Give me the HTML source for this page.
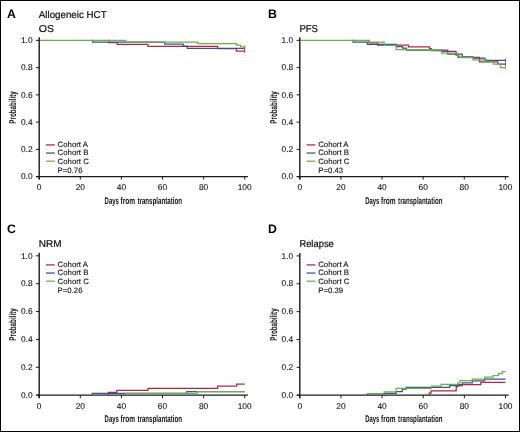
<!DOCTYPE html>
<html><head><meta charset="utf-8"><style>
html,body{margin:0;padding:0;background:#fff;width:520px;height:432px;overflow:hidden}
svg{display:block;will-change:transform}
text{font-family:"Liberation Sans",sans-serif;text-rendering:geometricPrecision}
text.r{stroke:#111;stroke-width:0.22px}
text.s{stroke:#111;stroke-width:0.1px}
</style></head><body>
<svg width="520" height="432" viewBox="0 0 520 432">
<rect x="0" y="0" width="520" height="432" fill="#fff"/>
<rect x="0.5" y="0.5" width="519" height="431" fill="none" stroke="#000" stroke-width="1"/>
<text x="7.0" y="17.6" font-family="Liberation Sans" font-weight="bold" font-size="12.3" fill="#000">A</text>
<text class="r" x="38.8" y="17.6" font-family="Liberation Sans" font-size="10" textLength="67.8" lengthAdjust="spacingAndGlyphs" fill="#111">Allogeneic HCT</text>
<text class="r" x="38.8" y="31.5" font-family="Liberation Sans" font-size="10" textLength="15.2" lengthAdjust="spacingAndGlyphs" fill="#111">OS</text>
<path d="M108,40.35H108.7V42.6H117.2V44.3H147.9V46.4H217.7V48.6H236.3V51.1H244.7" fill="none" stroke="#b82344" stroke-width="1.25"/>
<path d="M244.7,49.5V52.7" stroke="#b82344" stroke-width="1"/>
<path d="M91.8,40.35H92.5V42H164.7V44.2H183.2V46H187.3V48.3H244.7" fill="none" stroke="#34558f" stroke-width="1.25"/>
<path d="M244.7,46.7V49.9" stroke="#34558f" stroke-width="1"/>
<path d="M39.2,40.35H125.8V42.15H197.7V43.7H236.5V45.2H240.7V46.8H244.7" fill="none" stroke="#69b148" stroke-width="1.25"/>
<path d="M244.7,45.2V48.4" stroke="#69b148" stroke-width="1"/>
<path d="M39.2,37.35V179.6" stroke="#1a1a1a" stroke-width="1.4" fill="none"/>
<path d="M36.2,176.6H247.9" stroke="#1a1a1a" stroke-width="1.3" fill="none"/>
<path d="M36,176.6H39.2" stroke="#1a1a1a" stroke-width="1"/>
<text class="s" x="32.6" y="179.3" text-anchor="end" font-family="Liberation Sans" font-size="8.4" fill="#111">0.0</text>
<path d="M36,149.35H39.2" stroke="#1a1a1a" stroke-width="1"/>
<text class="s" x="32.6" y="152.05" text-anchor="end" font-family="Liberation Sans" font-size="8.4" fill="#111">0.2</text>
<path d="M36,122.1H39.2" stroke="#1a1a1a" stroke-width="1"/>
<text class="s" x="32.6" y="124.8" text-anchor="end" font-family="Liberation Sans" font-size="8.4" fill="#111">0.4</text>
<path d="M36,94.85H39.2" stroke="#1a1a1a" stroke-width="1"/>
<text class="s" x="32.6" y="97.55" text-anchor="end" font-family="Liberation Sans" font-size="8.4" fill="#111">0.6</text>
<path d="M36,67.6H39.2" stroke="#1a1a1a" stroke-width="1"/>
<text class="s" x="32.6" y="70.3" text-anchor="end" font-family="Liberation Sans" font-size="8.4" fill="#111">0.8</text>
<path d="M36,40.35H39.2" stroke="#1a1a1a" stroke-width="1"/>
<text class="s" x="32.6" y="43.05" text-anchor="end" font-family="Liberation Sans" font-size="8.4" fill="#111">1.0</text>
<path d="M39.2,176.6V179.6" stroke="#1a1a1a" stroke-width="1"/>
<text class="s" x="39.2" y="190" text-anchor="middle" font-family="Liberation Sans" font-size="8.4" fill="#111">0</text>
<path d="M80.3,176.6V179.6" stroke="#1a1a1a" stroke-width="1"/>
<text class="s" x="80.3" y="190" text-anchor="middle" font-family="Liberation Sans" font-size="8.4" fill="#111">20</text>
<path d="M121.4,176.6V179.6" stroke="#1a1a1a" stroke-width="1"/>
<text class="s" x="121.4" y="190" text-anchor="middle" font-family="Liberation Sans" font-size="8.4" fill="#111">40</text>
<path d="M162.5,176.6V179.6" stroke="#1a1a1a" stroke-width="1"/>
<text class="s" x="162.5" y="190" text-anchor="middle" font-family="Liberation Sans" font-size="8.4" fill="#111">60</text>
<path d="M203.6,176.6V179.6" stroke="#1a1a1a" stroke-width="1"/>
<text class="s" x="203.6" y="190" text-anchor="middle" font-family="Liberation Sans" font-size="8.4" fill="#111">80</text>
<path d="M244.7,176.6V179.6" stroke="#1a1a1a" stroke-width="1"/>
<text class="s" x="244.7" y="190" text-anchor="middle" font-family="Liberation Sans" font-size="8.4" fill="#111">100</text>
<text x="104.6" y="203.8" font-family="Liberation Sans" font-weight="bold" font-size="9.7" textLength="14.2" lengthAdjust="spacingAndGlyphs" fill="#111">Days</text>
<text x="120.5" y="203.8" font-family="Liberation Sans" font-weight="bold" font-size="9.7" textLength="14.5" lengthAdjust="spacingAndGlyphs" fill="#111">from</text>
<text x="137.5" y="203.8" font-family="Liberation Sans" font-weight="bold" font-size="9.7" textLength="44.4" lengthAdjust="spacingAndGlyphs" fill="#111">transplantation</text>
<text transform="translate(16.3,107.47) rotate(-90)" text-anchor="middle" font-family="Liberation Sans" font-weight="bold" font-size="10" textLength="32.4" lengthAdjust="spacingAndGlyphs" fill="#111">Probability</text>
<path d="M46,144.9H54.8" stroke="#b82344" stroke-width="1.25"/>
<text class="s" x="57.6" y="147" font-family="Liberation Sans" font-size="7.8" fill="#111">Cohort A</text>
<path d="M46,153.05H54.8" stroke="#34558f" stroke-width="1.25"/>
<text class="s" x="57.6" y="154.9" font-family="Liberation Sans" font-size="7.8" fill="#111">Cohort B</text>
<path d="M46,161.2H54.8" stroke="#69b148" stroke-width="1.25"/>
<text class="s" x="57.6" y="163.9" font-family="Liberation Sans" font-size="7.8" fill="#111">Cohort C</text>
<text class="s" x="57.6" y="172.5" font-family="Liberation Sans" font-size="7.8" fill="#111">P=0.76</text>
<text x="268.0" y="17.6" font-family="Liberation Sans" font-weight="bold" font-size="12.3" fill="#000">B</text>
<text class="r" x="299.4" y="31.6" font-family="Liberation Sans" font-size="10" textLength="18.6" lengthAdjust="spacingAndGlyphs" fill="#111">PFS</text>
<path d="M368.3,40.35H369V42.8H377.7V45H408.5V46.8H429.5V48.7H431.5V50.3H442.3V51.3H456V55H458V57.4H479.5V61.8H497.9V64H505.4" fill="none" stroke="#b82344" stroke-width="1.25"/>
<path d="M505.4,62.4V65.6" stroke="#b82344" stroke-width="1"/>
<path d="M352.4,40.35H353.1V42.2H367.3V44.3H396.5V46.5H402.7V48.2H406.5V50.1H447.7V54H462.3V56.9H473V58H485V60.3H505.4" fill="none" stroke="#34558f" stroke-width="1.25"/>
<path d="M505.4,58.7V61.9" stroke="#34558f" stroke-width="1"/>
<path d="M299.8,40.35H367.7V42H384.2V45.3H396.2V49.5H431.2V50.9H441.5V53.2H457.7V56H460V57.6H473V59.8H485V61.8H493.5V64H500.5V67.7H505.4" fill="none" stroke="#69b148" stroke-width="1.25"/>
<path d="M505.4,66.1V69.3" stroke="#69b148" stroke-width="1"/>
<path d="M299.8,37.35V179.6" stroke="#1a1a1a" stroke-width="1.4" fill="none"/>
<path d="M296.8,176.6H508.6" stroke="#1a1a1a" stroke-width="1.3" fill="none"/>
<path d="M296.6,176.6H299.8" stroke="#1a1a1a" stroke-width="1"/>
<text class="s" x="293.2" y="179.3" text-anchor="end" font-family="Liberation Sans" font-size="8.4" fill="#111">0.0</text>
<path d="M296.6,149.35H299.8" stroke="#1a1a1a" stroke-width="1"/>
<text class="s" x="293.2" y="152.05" text-anchor="end" font-family="Liberation Sans" font-size="8.4" fill="#111">0.2</text>
<path d="M296.6,122.1H299.8" stroke="#1a1a1a" stroke-width="1"/>
<text class="s" x="293.2" y="124.8" text-anchor="end" font-family="Liberation Sans" font-size="8.4" fill="#111">0.4</text>
<path d="M296.6,94.85H299.8" stroke="#1a1a1a" stroke-width="1"/>
<text class="s" x="293.2" y="97.55" text-anchor="end" font-family="Liberation Sans" font-size="8.4" fill="#111">0.6</text>
<path d="M296.6,67.6H299.8" stroke="#1a1a1a" stroke-width="1"/>
<text class="s" x="293.2" y="70.3" text-anchor="end" font-family="Liberation Sans" font-size="8.4" fill="#111">0.8</text>
<path d="M296.6,40.35H299.8" stroke="#1a1a1a" stroke-width="1"/>
<text class="s" x="293.2" y="43.05" text-anchor="end" font-family="Liberation Sans" font-size="8.4" fill="#111">1.0</text>
<path d="M299.8,176.6V179.6" stroke="#1a1a1a" stroke-width="1"/>
<text class="s" x="299.8" y="190" text-anchor="middle" font-family="Liberation Sans" font-size="8.4" fill="#111">0</text>
<path d="M340.92,176.6V179.6" stroke="#1a1a1a" stroke-width="1"/>
<text class="s" x="340.92" y="190" text-anchor="middle" font-family="Liberation Sans" font-size="8.4" fill="#111">20</text>
<path d="M382.04,176.6V179.6" stroke="#1a1a1a" stroke-width="1"/>
<text class="s" x="382.04" y="190" text-anchor="middle" font-family="Liberation Sans" font-size="8.4" fill="#111">40</text>
<path d="M423.16,176.6V179.6" stroke="#1a1a1a" stroke-width="1"/>
<text class="s" x="423.16" y="190" text-anchor="middle" font-family="Liberation Sans" font-size="8.4" fill="#111">60</text>
<path d="M464.28,176.6V179.6" stroke="#1a1a1a" stroke-width="1"/>
<text class="s" x="464.28" y="190" text-anchor="middle" font-family="Liberation Sans" font-size="8.4" fill="#111">80</text>
<path d="M505.4,176.6V179.6" stroke="#1a1a1a" stroke-width="1"/>
<text class="s" x="505.4" y="190" text-anchor="middle" font-family="Liberation Sans" font-size="8.4" fill="#111">100</text>
<text x="365.2" y="203.8" font-family="Liberation Sans" font-weight="bold" font-size="9.7" textLength="14.2" lengthAdjust="spacingAndGlyphs" fill="#111">Days</text>
<text x="381.1" y="203.8" font-family="Liberation Sans" font-weight="bold" font-size="9.7" textLength="14.5" lengthAdjust="spacingAndGlyphs" fill="#111">from</text>
<text x="398.1" y="203.8" font-family="Liberation Sans" font-weight="bold" font-size="9.7" textLength="44.4" lengthAdjust="spacingAndGlyphs" fill="#111">transplantation</text>
<text transform="translate(276.9,107.47) rotate(-90)" text-anchor="middle" font-family="Liberation Sans" font-weight="bold" font-size="10" textLength="32.4" lengthAdjust="spacingAndGlyphs" fill="#111">Probability</text>
<path d="M306.6,144.9H315.4" stroke="#b82344" stroke-width="1.25"/>
<text class="s" x="318.2" y="147" font-family="Liberation Sans" font-size="7.8" fill="#111">Cohort A</text>
<path d="M306.6,153.05H315.4" stroke="#34558f" stroke-width="1.25"/>
<text class="s" x="318.2" y="154.9" font-family="Liberation Sans" font-size="7.8" fill="#111">Cohort B</text>
<path d="M306.6,161.2H315.4" stroke="#69b148" stroke-width="1.25"/>
<text class="s" x="318.2" y="163.9" font-family="Liberation Sans" font-size="7.8" fill="#111">Cohort C</text>
<text class="s" x="318.2" y="172.5" font-family="Liberation Sans" font-size="7.8" fill="#111">P=0.43</text>
<text x="7.0" y="232.6" font-family="Liberation Sans" font-weight="bold" font-size="12.3" fill="#000">C</text>
<text class="r" x="38.8" y="247.1" font-family="Liberation Sans" font-size="10" fill="#111">NRM</text>
<path d="M108.4,394.6H108.4V392.3H116.8V390.3H148V388.4H217.6V386.2H236.6V384.1H244.7" fill="none" stroke="#b82344" stroke-width="1.25"/>
<path d="M92.2,394.6H92.2V393.4H186.8V391.5H244.7" fill="none" stroke="#34558f" stroke-width="1.25"/>
<path d="M125.3,394.6H125.3V393.4H197.2V391.5H244.7" fill="none" stroke="#69b148" stroke-width="1.25"/>
<path d="M39.2,252.8V398.2" stroke="#1a1a1a" stroke-width="1.4" fill="none"/>
<path d="M36.2,395.2H247.9" stroke="#1a1a1a" stroke-width="1.3" fill="none"/>
<path d="M36,395.2H39.2" stroke="#1a1a1a" stroke-width="1"/>
<text class="s" x="32.6" y="397.9" text-anchor="end" font-family="Liberation Sans" font-size="8.4" fill="#111">0.0</text>
<path d="M36,367.32H39.2" stroke="#1a1a1a" stroke-width="1"/>
<text class="s" x="32.6" y="370.02" text-anchor="end" font-family="Liberation Sans" font-size="8.4" fill="#111">0.2</text>
<path d="M36,339.44H39.2" stroke="#1a1a1a" stroke-width="1"/>
<text class="s" x="32.6" y="342.14" text-anchor="end" font-family="Liberation Sans" font-size="8.4" fill="#111">0.4</text>
<path d="M36,311.56H39.2" stroke="#1a1a1a" stroke-width="1"/>
<text class="s" x="32.6" y="314.26" text-anchor="end" font-family="Liberation Sans" font-size="8.4" fill="#111">0.6</text>
<path d="M36,283.68H39.2" stroke="#1a1a1a" stroke-width="1"/>
<text class="s" x="32.6" y="286.38" text-anchor="end" font-family="Liberation Sans" font-size="8.4" fill="#111">0.8</text>
<path d="M36,255.8H39.2" stroke="#1a1a1a" stroke-width="1"/>
<text class="s" x="32.6" y="258.5" text-anchor="end" font-family="Liberation Sans" font-size="8.4" fill="#111">1.0</text>
<path d="M39.2,395.2V398.2" stroke="#1a1a1a" stroke-width="1"/>
<text class="s" x="39.2" y="408.6" text-anchor="middle" font-family="Liberation Sans" font-size="8.4" fill="#111">0</text>
<path d="M80.3,395.2V398.2" stroke="#1a1a1a" stroke-width="1"/>
<text class="s" x="80.3" y="408.6" text-anchor="middle" font-family="Liberation Sans" font-size="8.4" fill="#111">20</text>
<path d="M121.4,395.2V398.2" stroke="#1a1a1a" stroke-width="1"/>
<text class="s" x="121.4" y="408.6" text-anchor="middle" font-family="Liberation Sans" font-size="8.4" fill="#111">40</text>
<path d="M162.5,395.2V398.2" stroke="#1a1a1a" stroke-width="1"/>
<text class="s" x="162.5" y="408.6" text-anchor="middle" font-family="Liberation Sans" font-size="8.4" fill="#111">60</text>
<path d="M203.6,395.2V398.2" stroke="#1a1a1a" stroke-width="1"/>
<text class="s" x="203.6" y="408.6" text-anchor="middle" font-family="Liberation Sans" font-size="8.4" fill="#111">80</text>
<path d="M244.7,395.2V398.2" stroke="#1a1a1a" stroke-width="1"/>
<text class="s" x="244.7" y="408.6" text-anchor="middle" font-family="Liberation Sans" font-size="8.4" fill="#111">100</text>
<text x="104.6" y="422.4" font-family="Liberation Sans" font-weight="bold" font-size="9.7" textLength="14.2" lengthAdjust="spacingAndGlyphs" fill="#111">Days</text>
<text x="120.5" y="422.4" font-family="Liberation Sans" font-weight="bold" font-size="9.7" textLength="14.5" lengthAdjust="spacingAndGlyphs" fill="#111">from</text>
<text x="137.5" y="422.4" font-family="Liberation Sans" font-weight="bold" font-size="9.7" textLength="44.4" lengthAdjust="spacingAndGlyphs" fill="#111">transplantation</text>
<text transform="translate(16.3,324.5) rotate(-90)" text-anchor="middle" font-family="Liberation Sans" font-weight="bold" font-size="10" textLength="32.4" lengthAdjust="spacingAndGlyphs" fill="#111">Probability</text>
<path d="M46,264.9H54.8" stroke="#b82344" stroke-width="1.25"/>
<text class="s" x="57.6" y="267" font-family="Liberation Sans" font-size="7.8" fill="#111">Cohort A</text>
<path d="M46,273.05H54.8" stroke="#34558f" stroke-width="1.25"/>
<text class="s" x="57.6" y="274.9" font-family="Liberation Sans" font-size="7.8" fill="#111">Cohort B</text>
<path d="M46,281.2H54.8" stroke="#69b148" stroke-width="1.25"/>
<text class="s" x="57.6" y="283.9" font-family="Liberation Sans" font-size="7.8" fill="#111">Cohort C</text>
<text class="s" x="57.6" y="292.5" font-family="Liberation Sans" font-size="7.8" fill="#111">P=0.26</text>
<text x="268.0" y="232.6" font-family="Liberation Sans" font-weight="bold" font-size="12.3" fill="#000">D</text>
<text class="r" x="299.4" y="246.8" font-family="Liberation Sans" font-size="10" textLength="34.4" lengthAdjust="spacingAndGlyphs" fill="#111">Relapse</text>
<path d="M429.2,394.6H429.2V393H431V390.8H456.2V386.5H458V384.6H480.8V382.3H505.5" fill="none" stroke="#b82344" stroke-width="1.25"/>
<path d="M384.2,394.6H384.2V393.3H396.2V391.5H402.3V389H406.2V387.4H449.6V385.5H462.3V382.8H472.3V380.8H484.6V379.2H505.5" fill="none" stroke="#34558f" stroke-width="1.25"/>
<path d="M367.2,394.6H367.2V393.5H384.2V391.8H396.2V388.3H431.5V386.2H441.2V384.3H458V382.8H460V380.6H472.3V379.1H484.6V377.1H493V375.5H498.5V373.5H502.3V371.5H505.5" fill="none" stroke="#69b148" stroke-width="1.25"/>
<path d="M299.8,252.9V398.2" stroke="#1a1a1a" stroke-width="1.4" fill="none"/>
<path d="M296.8,395.2H508.7" stroke="#1a1a1a" stroke-width="1.3" fill="none"/>
<path d="M296.6,395.2H299.8" stroke="#1a1a1a" stroke-width="1"/>
<text class="s" x="293.2" y="397.9" text-anchor="end" font-family="Liberation Sans" font-size="8.4" fill="#111">0.0</text>
<path d="M296.6,367.34H299.8" stroke="#1a1a1a" stroke-width="1"/>
<text class="s" x="293.2" y="370.04" text-anchor="end" font-family="Liberation Sans" font-size="8.4" fill="#111">0.2</text>
<path d="M296.6,339.48H299.8" stroke="#1a1a1a" stroke-width="1"/>
<text class="s" x="293.2" y="342.18" text-anchor="end" font-family="Liberation Sans" font-size="8.4" fill="#111">0.4</text>
<path d="M296.6,311.62H299.8" stroke="#1a1a1a" stroke-width="1"/>
<text class="s" x="293.2" y="314.32" text-anchor="end" font-family="Liberation Sans" font-size="8.4" fill="#111">0.6</text>
<path d="M296.6,283.76H299.8" stroke="#1a1a1a" stroke-width="1"/>
<text class="s" x="293.2" y="286.46" text-anchor="end" font-family="Liberation Sans" font-size="8.4" fill="#111">0.8</text>
<path d="M296.6,255.9H299.8" stroke="#1a1a1a" stroke-width="1"/>
<text class="s" x="293.2" y="258.6" text-anchor="end" font-family="Liberation Sans" font-size="8.4" fill="#111">1.0</text>
<path d="M299.8,395.2V398.2" stroke="#1a1a1a" stroke-width="1"/>
<text class="s" x="299.8" y="408.6" text-anchor="middle" font-family="Liberation Sans" font-size="8.4" fill="#111">0</text>
<path d="M340.94,395.2V398.2" stroke="#1a1a1a" stroke-width="1"/>
<text class="s" x="340.94" y="408.6" text-anchor="middle" font-family="Liberation Sans" font-size="8.4" fill="#111">20</text>
<path d="M382.08,395.2V398.2" stroke="#1a1a1a" stroke-width="1"/>
<text class="s" x="382.08" y="408.6" text-anchor="middle" font-family="Liberation Sans" font-size="8.4" fill="#111">40</text>
<path d="M423.22,395.2V398.2" stroke="#1a1a1a" stroke-width="1"/>
<text class="s" x="423.22" y="408.6" text-anchor="middle" font-family="Liberation Sans" font-size="8.4" fill="#111">60</text>
<path d="M464.36,395.2V398.2" stroke="#1a1a1a" stroke-width="1"/>
<text class="s" x="464.36" y="408.6" text-anchor="middle" font-family="Liberation Sans" font-size="8.4" fill="#111">80</text>
<path d="M505.5,395.2V398.2" stroke="#1a1a1a" stroke-width="1"/>
<text class="s" x="505.5" y="408.6" text-anchor="middle" font-family="Liberation Sans" font-size="8.4" fill="#111">100</text>
<text x="365.2" y="422.4" font-family="Liberation Sans" font-weight="bold" font-size="9.7" textLength="14.2" lengthAdjust="spacingAndGlyphs" fill="#111">Days</text>
<text x="381.1" y="422.4" font-family="Liberation Sans" font-weight="bold" font-size="9.7" textLength="14.5" lengthAdjust="spacingAndGlyphs" fill="#111">from</text>
<text x="398.1" y="422.4" font-family="Liberation Sans" font-weight="bold" font-size="9.7" textLength="44.4" lengthAdjust="spacingAndGlyphs" fill="#111">transplantation</text>
<text transform="translate(276.9,324.55) rotate(-90)" text-anchor="middle" font-family="Liberation Sans" font-weight="bold" font-size="10" textLength="32.4" lengthAdjust="spacingAndGlyphs" fill="#111">Probability</text>
<path d="M306.6,264.9H315.4" stroke="#b82344" stroke-width="1.25"/>
<text class="s" x="318.2" y="267" font-family="Liberation Sans" font-size="7.8" fill="#111">Cohort A</text>
<path d="M306.6,273.05H315.4" stroke="#34558f" stroke-width="1.25"/>
<text class="s" x="318.2" y="274.9" font-family="Liberation Sans" font-size="7.8" fill="#111">Cohort B</text>
<path d="M306.6,281.2H315.4" stroke="#69b148" stroke-width="1.25"/>
<text class="s" x="318.2" y="283.9" font-family="Liberation Sans" font-size="7.8" fill="#111">Cohort C</text>
<text class="s" x="318.2" y="292.5" font-family="Liberation Sans" font-size="7.8" fill="#111">P=0.39</text>
</svg>
</body></html>
